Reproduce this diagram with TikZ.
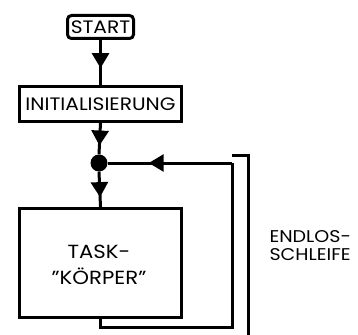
\documentclass[tikz,border=0pt]{standalone}
\usepackage{fontspec}
\setmainfont{Poppins}[FakeStretch=1.12]
\usetikzlibrary{arrows.meta,decorations.markings}
\begin{document}
\begin{tikzpicture}[x=1pt,y=-1pt,
  ln/.style={line width=3pt},
  box/.style={draw,line width=3pt,inner sep=0pt,anchor=north west},
  midarrow/.style={postaction={decorate},decoration={markings,mark=at position #1 with {\arrow{Triangle[length=15pt,width=17pt]}}}},
  txt/.style={font=\fontsize{18pt}{22pt}\selectfont}
]
\useasboundingbox (0,0) rectangle (358,334);
\node[box,txt,rounded corners=4pt,minimum width=66pt,minimum height=23pt] (start) at (66,14) {START};
\node[box,txt,minimum width=162pt,minimum height=35pt] (init) at (18,85) {INITIALISIERUNG};
\node[circle,fill,inner sep=0pt,minimum size=17pt] (dot) at (99,163) {};
\node[box,minimum width=162pt,minimum height=109pt] (task) at (18,207) {};
\node[font=\fontsize{19pt}{26pt}\selectfont,align=center,anchor=base] (tasktxt) at (99,284) {TASK-\\"KÖRPER"};
\coordinate (lr) at (232,163);
\coordinate (lb) at (232,327);
\draw[ln,midarrow=0.625] (start.south) -- (init.north);
\draw[ln,midarrow=0.72] (init.south) -- (dot.north);
\draw[ln,midarrow=0.72] (dot.south) -- (task.north);
\draw[ln] (task.south) |- (lb) -- (lr);
\draw[ln,midarrow=0.67] (lr) -- (dot.east);
\coordinate (bt) at (232,155);
\coordinate (bb) at (248,336);
\draw[ln] (bt) -| (bb);
\node[font=\fontsize{17pt}{18pt}\selectfont,align=left,anchor=base west] (endl) at (266,260) {ENDLOS-\\SCHLEIFE};
\end{tikzpicture}
\end{document}
